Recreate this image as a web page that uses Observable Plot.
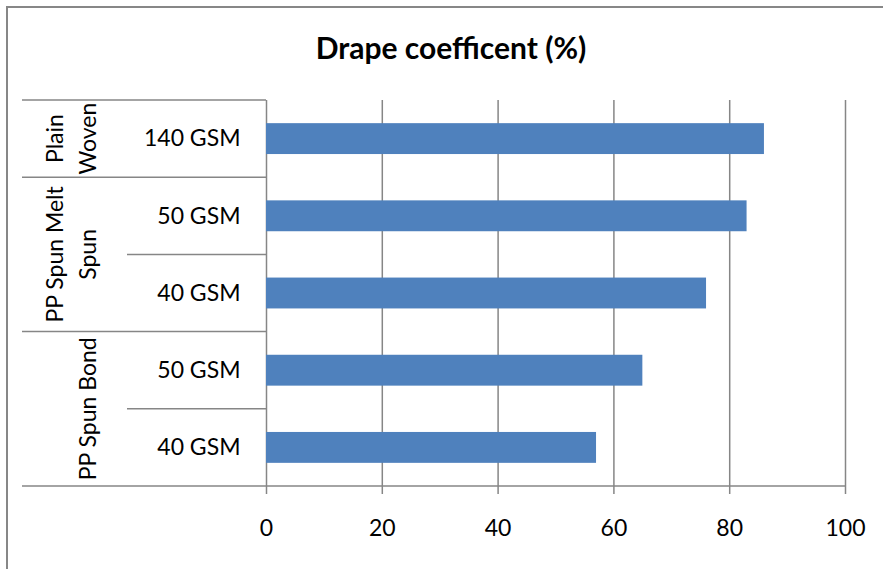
<!DOCTYPE html>
<html>
<head>
<meta charset="utf-8">
<script src="https://cdn.jsdelivr.net/npm/d3@7"></script>
<script src="https://cdn.jsdelivr.net/npm/@observablehq/plot@0.6"></script>
<style>
  html, body { margin: 0; padding: 0; background: #fff; }
  #wrap { position: relative; width: 883px; height: 569px; overflow: hidden; font-family: Lato, "Open Sans", sans-serif; }
  #border { position: absolute; left: 6px; top: 6px; width: 1000px; height: 1000px;
            border-left: 2px solid #878787; border-top: 2px solid #878787; }
  #title { position: absolute; left: 0; top: 32px; width: 902px; text-align: center;
           font-weight: bold; font-size: 30px; line-height: 30px; color: #000; }
  #chart { position: absolute; left: 0; top: 0; }
</style>
</head>
<body>
<div id="wrap">
  <div id="border"></div>
  <div id="title">Drape coefficent (%)</div>
  <div id="chart"></div>
</div>
<script>
// Drape coefficient per fabric sample
const fabrics = ["Plain Woven", "PP Spun Melt Spun", "PP Spun Melt Spun", "PP Spun Bond", "PP Spun Bond"];
const samples = ["140 GSM", "50 GSM", "40 GSM", "50 GSM", "40 GSM"];
const drape = [86, 83, 76, 65, 57];
const fabricLines = {
  "Plain Woven": ["Plain", "Woven"],
  "PP Spun Melt Spun": ["PP Spun Melt", "Spun"],
  "PP Spun Bond": ["PP Spun Bond"]
};
const xTicks = [0, 20, 40, 60, 80, 100];

const rows = samples.map((s, i) => ({key: `${fabrics[i]}|${s}`, fabric: fabrics[i], sample: s, value: drape[i]}));
const keys = rows.map(d => d.key);

const lineColor = "#868686";
const inner = 0.6;
const fontSize = 23;

// Two-level category table on the left: row separators and rotated fabric names
function categoryTable(index, scales, values, dims) {
  const y = scales.y;
  const step = y(keys[1]) - y(keys[0]);
  const gap = step * inner / 2;
  const left = dims.marginLeft;
  const g = d3.create("svg:g");
  const lines = g.append("g").attr("stroke", lineColor).attr("stroke-width", 1.5);
  rows.forEach((d, i) => {
    const yy = y(d.key) - gap;
    const groupStart = i === 0 || rows[i - 1].fabric !== d.fabric;
    lines.append("line")
      .attr("x1", groupStart ? left - 244 : left - 139).attr("x2", left)
      .attr("y1", yy).attr("y2", yy);
  });
  const yBottom = y(keys[keys.length - 1]) + step - gap;
  lines.append("line")
    .attr("x1", left - 244).attr("x2", dims.width - dims.marginRight)
    .attr("y1", yBottom).attr("y2", yBottom);

  const groups = d3.groups(rows, d => d.fabric);
  const labels = g.append("g").attr("font-size", fontSize).attr("text-anchor", "middle").attr("fill", "#000");
  for (const [fabric, members] of groups) {
    const y0 = y(members[0].key) - gap;
    const y1 = y(members[members.length - 1].key) + step - gap;
    const cy = (y0 + y1) / 2;
    const ls = fabricLines[fabric];
    ls.forEach((text, j) => {
      const cx = left - 178 - (ls.length - 1 - j) * 33;
      labels.append("text")
        .attr("transform", `translate(${cx},${cy}) rotate(-90)`)
        .attr("dy", "0.35em")
        .text(text);
    });
  }
  return g.node();
}

const chart = Plot.plot({
  width: 883,
  height: 569,
  marginTop: 100,
  marginBottom: 83,
  marginLeft: 266,
  marginRight: 38,
  style: {fontFamily: "Lato, 'Open Sans', sans-serif", fontSize: `${fontSize}px`, color: "#000", background: "transparent", overflow: "visible"},
  x: {domain: [0, 100], label: null},
  y: {domain: keys, paddingInner: inner, paddingOuter: 0.3, round: false, label: null},
  marks: [
    Plot.ruleX(xTicks, {stroke: lineColor, strokeWidth: 1.5}),
    Plot.barX(rows, {x: "value", y: "key", fill: "#4F81BD"}),
    Plot.axisX({ticks: xTicks, tickSize: 8, tickPadding: 25, stroke: lineColor, strokeWidth: 1.5, fill: "#000", label: null}),
    Plot.axisY({tickSize: 0, tickPadding: 26, tickFormat: k => k.split("|")[1], fill: "#000", label: null}),
    categoryTable
  ]
});
document.getElementById("chart").append(chart);
</script>
</body>
</html>
